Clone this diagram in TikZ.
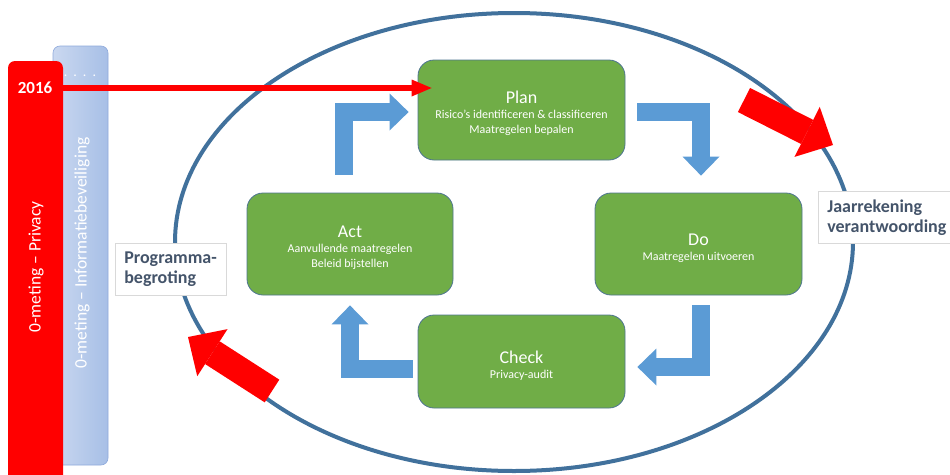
\documentclass[tikz,border=0pt]{standalone}
\usepackage{fontspec}
\setmainfont{Carlito}
\usetikzlibrary{arrows.meta}
\definecolor{boxgreen}{HTML}{70AD47}
\definecolor{boxline}{HTML}{4E7590}
\definecolor{flowblue}{HTML}{5B9BD5}
\definecolor{ringblue}{HTML}{41719C}
\definecolor{labeltext}{HTML}{44546A}
\definecolor{labelline}{HTML}{D9D9D9}
\definecolor{barlight}{HTML}{CAD8F0}
\definecolor{bardark}{HTML}{A7BFE6}
\definecolor{barline}{HTML}{8FAADC}
\newcommand\phasetitle[1]{{\fontsize{18}{18}\selectfont\rule{0pt}{20pt}#1}}

\begin{document}
\begin{tikzpicture}[x=1pt,y=-1pt,
  phase/.style={draw=boxline,line width=0.8pt,fill=boxgreen,rounded corners=16pt,text=white,align=center,inner sep=0pt,font=\fontsize{12}{15}\selectfont},
  flow/.style={draw=flowblue,line width=18.5pt,line join=miter,-{Triangle[length=19pt,width=37pt,line width=0pt]}},
  bigred/.style={draw=red,line width=27pt,-{Triangle[length=29pt,width=56pt,line width=0pt]}},
  thinred/.style={draw=red,line width=6pt,-{Triangle[length=20pt,width=17pt,line width=0pt]}},
  bar/.style={rounded corners=7pt,minimum width=55pt,inner sep=0pt},
  bartext/.style={text=white,rotate=90,inner sep=0pt,font=\fontsize{17.5}{20}\selectfont},
  labelbox/.style={draw=labelline,fill=white,line width=0.6pt,anchor=west,align=left,inner xsep=9pt,minimum height=52pt,text=labeltext,font=\bfseries\fontsize{18}{20.5}\selectfont}]
\fill[white] (0,0) rectangle (950,474);
\useasboundingbox (0,0) rectangle (950,474);

\draw[ringblue,line width=4pt] (514,242) ellipse [x radius=339pt,y radius=229pt];

\node[bar,draw=barline,line width=0.6pt,left color=barlight,right color=bardark,minimum height=419pt] (infobar) at (80.5,255.5) {};
\node[bar,fill=red,minimum height=438pt] (privbar) at (35.5,280) {};
\node[text=white,font=\fontsize{14}{14}\selectfont] (dots) at (80,76) {.\hspace{6pt}.\hspace{6pt}.\hspace{6pt}.};
\node[text=white,font=\bfseries\fontsize{17}{17}\selectfont] (yr) at (35,88) {2016};
\node[bartext] (privtxt) at (36,267) {0-meting -- Privacy};
\node[bartext] (infotxt) at (82,253) {0-meting -- Informatiebeveiliging};

\node[phase,minimum width=207pt,minimum height=100pt] (plan) at (521.5,110) {\phasetitle{Plan}\\Risico's identificeren \& classificeren\\Maatregelen bepalen};
\node[phase,minimum width=206pt,minimum height=102pt] (act) at (350,244) {\phasetitle{Act}\\Aanvullende maatregelen\\Beleid bijstellen};
\node[phase,minimum width=207pt,minimum height=102pt] (do) at (698.5,244) {\phasetitle{Do}\\Maatregelen uitvoeren};
\node[phase,minimum width=207pt,minimum height=93pt] (check) at (521.5,361.5) {\phasetitle{Check}\\Privacy-audit};

\draw[flow] ([xshift=-6pt,yshift=18pt]act.north) |- ([xshift=-9pt,yshift=-2pt]plan.west);
\draw[flow] ([xshift=12pt,yshift=-2pt]plan.east) -| ([xshift=2.5pt,yshift=17pt]do.north);
\draw[flow] ([xshift=2.5pt,yshift=-10pt]do.south) |- ([xshift=12pt,yshift=-5.5pt]check.east);
\draw[flow] ([xshift=-5pt,yshift=-7.5pt]check.west) -| ([yshift=-10pt]act.south);

\node[labelbox] (prog) at (115,269) {Programma-\\begroting};
\node[labelbox] (jaar) at (818,217.5) {Jaarrekening\\verantwoording};

\coordinate (jaarfrom) at (744,100);
\coordinate (jaarto) at (833,145);
\coordinate (progfrom) at (272,391);
\coordinate (progto) at (188,337);
\draw[bigred] (jaarfrom) -- (jaarto);
\draw[bigred] (progfrom) -- (progto);

\draw[thinred] (yr.east -| privbar.east) -- ([xshift=14pt]plan.west |- yr.east);
\end{tikzpicture}
\end{document}
